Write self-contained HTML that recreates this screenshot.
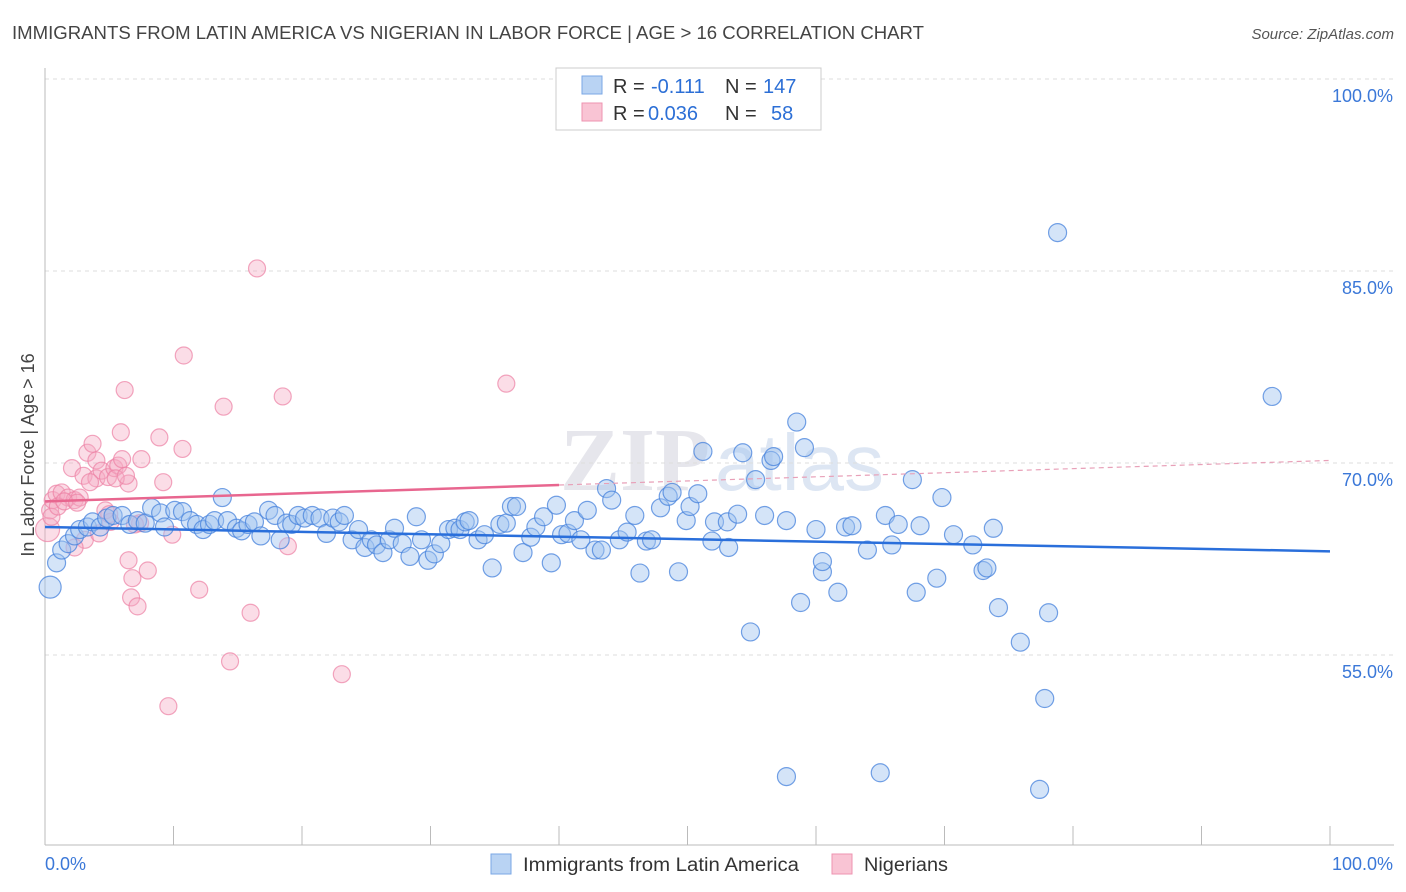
<!DOCTYPE html>
<html><head><meta charset="utf-8">
<style>
body{margin:0;background:#fff;font-family:"Liberation Sans",sans-serif;}
#wrap{position:relative;width:1406px;height:892px;overflow:hidden;}
</style></head>
<body>
<div id="wrap">
<svg id="svg" width="1406" height="892" xmlns="http://www.w3.org/2000/svg">
<text x="12" y="39" font-size="18" fill="#444" textLength="912" lengthAdjust="spacingAndGlyphs">IMMIGRANTS FROM LATIN AMERICA VS NIGERIAN IN LABOR FORCE | AGE &gt; 16 CORRELATION CHART</text>
<text x="1394" y="39" font-size="15" fill="#555" font-style="italic" text-anchor="end">Source: ZipAtlas.com</text>
<text x="710" y="490" font-size="90" fill="#e6e6ec" font-family="Liberation Serif,serif" font-weight="bold" text-anchor="end">ZIP</text>
<text x="715" y="490" font-size="80" fill="#dde6f3">atlas</text>
<text transform="translate(34,455) rotate(-90)" font-size="18" fill="#444" text-anchor="middle">In Labor Force | Age &gt; 16</text>
<g id="grid"></g><g id="pts"></g><g id="trend"></g>
<g>
<rect x="556" y="68" width="265" height="62" fill="#fff" stroke="#ccc"/>
<rect x="582" y="76" width="20" height="18" fill="#b9d3f3" stroke="#7aa7e6"/>
<rect x="582" y="103" width="20" height="18" fill="#f9c4d4" stroke="#ee93b0"/>
<g font-size="20" fill="#333">
<text x="613" y="93">R =</text><text x="651" y="93" fill="#2c6fd6">-0.111</text><text x="725" y="93">N =</text><text x="763" y="93" fill="#2c6fd6">147</text>
<text x="613" y="120">R =</text><text x="648" y="120" fill="#2c6fd6">0.036</text><text x="725" y="120">N =</text><text x="771" y="120" fill="#2c6fd6">58</text>
</g>
</g>
<g>
<rect x="491" y="854" width="20" height="20" fill="#b9d3f3" stroke="#7aa7e6"/>
<text x="523" y="871" font-size="19" fill="#333" textLength="276" lengthAdjust="spacingAndGlyphs">Immigrants from Latin America</text>
<rect x="832" y="854" width="20" height="20" fill="#f9c4d4" stroke="#ee93b0"/>
<text x="864" y="871" font-size="19" fill="#333" textLength="84" lengthAdjust="spacingAndGlyphs">Nigerians</text>
</g>
</svg>
</div>
<script>
const yTicks=[55,70,85,100];
const xTickLabels=["0.0%","100.0%"];
const blueX=[0.4,0.9,1.3,1.8,2.3,2.7,3.3,3.7,4.3,4.8,5.3,6.0,6.6,7.2,7.8,8.3,9.0,9.3,10.1,10.7,11.3,11.8,12.3,12.8,13.2,13.8,14.2,14.9,15.3,15.8,16.3,16.8,17.4,17.9,18.3,18.8,19.2,19.7,20.2,20.8,21.4,21.9,22.4,22.9,23.3,23.9,24.4,24.9,25.4,25.8,26.3,26.8,27.2,27.8,28.4,28.9,29.3,29.8,30.3,30.8,31.4,31.9,32.3,32.7,33.0,33.7,34.2,34.8,35.4,35.9,36.3,36.7,37.2,37.8,38.2,38.8,39.4,39.8,40.2,40.7,41.2,41.7,42.2,42.8,43.3,43.7,44.1,44.7,45.3,45.9,46.3,46.8,47.2,47.9,48.5,48.8,49.3,49.9,50.2,50.8,51.2,51.9,52.1,53.1,53.2,53.9,54.3,54.9,55.3,56.0,56.5,56.7,57.7,58.5,58.8,59.1,60.0,60.5,60.5,61.7,62.3,62.8,64.0,65.4,65.9,66.4,67.5,67.8,68.1,69.4,69.8,70.7,72.2,73.0,73.3,73.8,74.2,75.9,77.8,78.1,78.8,57.7,65.0,77.4,95.5];
const blueY=[60.3,62.2,63.2,63.7,64.3,64.8,65.0,65.4,65.0,65.7,65.9,65.9,65.2,65.5,65.3,66.5,66.1,65.0,66.3,66.2,65.5,65.2,64.8,65.2,65.5,67.3,65.5,64.9,64.7,65.2,65.4,64.3,66.3,65.9,64.0,65.3,65.2,65.9,65.7,65.9,65.7,64.5,65.7,65.4,65.9,64.0,64.8,63.4,64.0,63.6,63.0,64.0,64.9,63.7,62.7,65.8,64.0,62.4,62.9,63.7,64.8,64.9,64.8,65.4,65.5,64.0,64.4,61.8,65.2,65.3,66.6,66.6,63.0,64.2,65.0,65.8,62.2,66.7,64.4,64.5,65.5,64.0,66.3,63.2,63.2,68.0,67.1,64.0,64.6,65.9,61.4,63.9,64.0,66.5,67.4,67.7,61.5,65.5,66.6,67.6,70.9,63.9,65.4,65.4,63.4,66.0,70.8,56.8,68.7,65.9,70.2,70.5,65.5,73.2,59.1,71.2,64.8,61.5,62.3,59.9,65.0,65.1,63.2,65.9,63.6,65.2,68.7,59.9,65.1,61.0,67.3,64.4,63.6,61.6,61.8,64.9,58.7,56.0,51.6,58.3,88.0,45.5,45.8,44.5,75.2];
const pinkX=[0.2,0.4,0.6,0.9,1.3,1.8,2.1,2.3,2.7,3.0,3.3,3.7,4.0,4.0,4.4,4.9,5.4,5.7,5.9,6.0,6.2,6.5,6.5,6.8,6.7,7.2,7.5,8.0,8.9,9.2,9.6,9.9,10.7,10.8,12.0,13.9,14.4,16.0,16.5,18.5,18.9,23.1,35.9,5.1,7.4,4.7,3.1,2.3,0.5,1.0,1.5,2.5,3.5,4.2,5.0,5.5,6.3,7.0];
const pinkY=[64.8,66.3,67.1,67.6,67.7,67.3,69.6,67.1,67.3,69.0,70.8,71.5,70.2,68.8,69.4,68.9,69.6,69.8,72.4,70.3,75.7,68.4,62.4,61.0,59.5,58.8,70.3,61.6,72.0,68.5,51.0,64.4,71.1,78.4,60.1,74.4,54.5,58.3,85.2,75.2,63.5,53.5,76.2,65.4,65.3,66.3,64.0,63.4,65.8,66.6,67.0,66.9,68.5,64.5,66.0,68.8,69.0,65.2];
const blueTrend=[65.0,63.1];
const pinkTrend=[67.0,70.2];
const pinkSolidEnd=40;
const X0=45,X1=1330,Y100=79,PX=12.8;
function xs(v){return X0+(X1-X0)*v/100;}
function ys(v){return Y100+(100-v)*PX;}
const NS="http://www.w3.org/2000/svg";
function mk(t,a,p){const e=document.createElementNS(NS,t);for(const k in a)e.setAttribute(k,a[k]);p.appendChild(e);return e;}
const grid=document.getElementById('grid');
yTicks.forEach(t=>{
 const l=mk('line',{x1:45,x2:1394,y1:ys(t),y2:ys(t),stroke:'#ddd','stroke-dasharray':'4,4'},grid);
 
 
 const tx=mk('text',{x:1393,y:ys(t)+23,'font-size':18,fill:'#3b78d8','text-anchor':'end'},grid);
 tx.textContent=t.toFixed(1)+'%';
 
 
});
const ax=mk('line',{x1:45,x2:45,y1:68,y2:845,stroke:'#bbb'},grid);


const bx=mk('line',{x1:45,x2:1394,y1:845,y2:845,stroke:'#bbb'},grid);


for(let i=0;i<=10;i++){const t=mk('line',{x1:xs(i*10),x2:xs(i*10),y1:826,y2:845,stroke:'#bbb'},grid);
 
 }
[[0,'start',45],[100,'end',1393]].forEach((d,i)=>{const t=mk('text',{x:d[2],y:870,'font-size':18,fill:'#3b78d8','text-anchor':d[1]},grid);t.textContent=xTickLabels[i];
 
 });
const pts=document.getElementById('pts');
pinkX.forEach((x,i)=>{const c=mk('circle',{cx:xs(x),cy:ys(pinkY[i]),r:i===0?12:8.5,fill:'rgba(246,170,196,0.4)',stroke:'rgba(236,128,164,0.7)','stroke-width':1.2},pts);
 
 });
blueX.forEach((x,i)=>{const c=mk('circle',{cx:xs(x),cy:ys(blueY[i]),r:i===0?11:9,fill:'rgba(160,196,240,0.45)',stroke:'rgba(70,130,220,0.75)','stroke-width':1.2},pts);
 
 });
const tr=document.getElementById('trend');
const pAt=v=>pinkTrend[0]+(pinkTrend[1]-pinkTrend[0])*v/100;
let l1=mk('line',{x1:xs(0),y1:ys(blueTrend[0]),x2:xs(100),y2:ys(blueTrend[1]),stroke:'#2a6fdb','stroke-width':2.5},tr);


let l2=mk('line',{x1:xs(0),y1:ys(pAt(0)),x2:xs(pinkSolidEnd),y2:ys(pAt(pinkSolidEnd)),stroke:'#e8668f','stroke-width':2.5},tr);


let l3=mk('line',{x1:xs(pinkSolidEnd),y1:ys(pAt(pinkSolidEnd)),x2:xs(100),y2:ys(pAt(100)),stroke:'#e8a0b8','stroke-width':1.2,'stroke-dasharray':'5,4'},tr);


</script>
</body></html>
